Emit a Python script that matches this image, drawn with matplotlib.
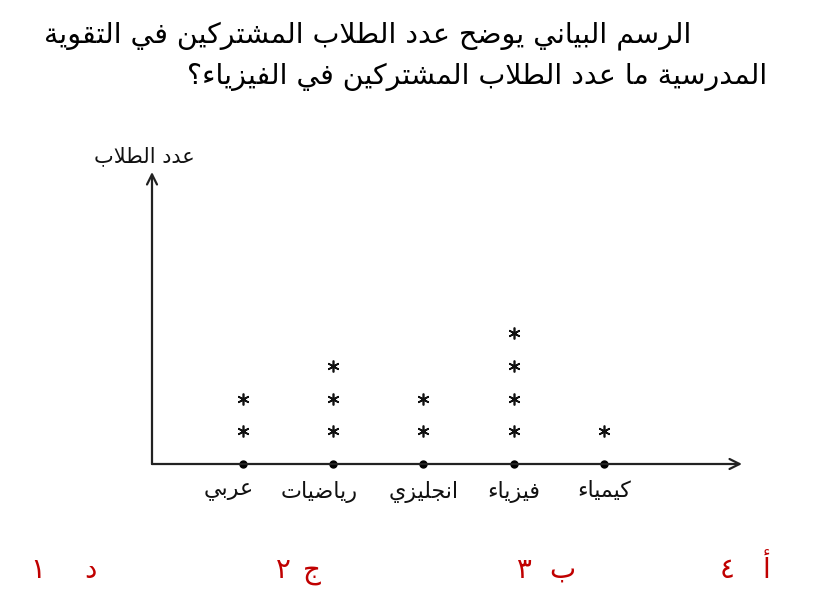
import matplotlib
matplotlib.use("Agg")
import matplotlib.pyplot as plt
import matplotlib.transforms as mtransforms

# ---------------- data ----------------
categories = ["عربي", "رياضيات", "انجليزي", "فيزياء", "كيمياء"]
counts = [2, 3, 2, 4, 1]
y_label = "عدد الطلاب"
title_lines = ["الرسم البياني يوضح عدد الطلاب المشتركين في التقوية",
               "المدرسية ما عدد الطلاب المشتركين في الفيزياء؟"]
choice_letters = ["أ", "ب", "ج", "د"]
choice_values = ["٤", "٣", "٢", "١"]

# ---------------- minimal Arabic shaping (presentation forms + RTL) ----------------
_FORMS = {  # isolated, final, initial, medial
    '\u0621': (0xFE80, None, None, None),
    '\u0622': (0xFE81, 0xFE82, None, None),
    '\u0623': (0xFE83, 0xFE84, None, None),
    '\u0624': (0xFE85, 0xFE86, None, None),
    '\u0625': (0xFE87, 0xFE88, None, None),
    '\u0626': (0xFE89, 0xFE8A, 0xFE8B, 0xFE8C),
    '\u0627': (0xFE8D, 0xFE8E, None, None),
    '\u0628': (0xFE8F, 0xFE90, 0xFE91, 0xFE92),
    '\u0629': (0xFE93, 0xFE94, None, None),
    '\u062A': (0xFE95, 0xFE96, 0xFE97, 0xFE98),
    '\u062B': (0xFE99, 0xFE9A, 0xFE9B, 0xFE9C),
    '\u062C': (0xFE9D, 0xFE9E, 0xFE9F, 0xFEA0),
    '\u062D': (0xFEA1, 0xFEA2, 0xFEA3, 0xFEA4),
    '\u062E': (0xFEA5, 0xFEA6, 0xFEA7, 0xFEA8),
    '\u062F': (0xFEA9, 0xFEAA, None, None),
    '\u0630': (0xFEAB, 0xFEAC, None, None),
    '\u0631': (0xFEAD, 0xFEAE, None, None),
    '\u0632': (0xFEAF, 0xFEB0, None, None),
    '\u0633': (0xFEB1, 0xFEB2, 0xFEB3, 0xFEB4),
    '\u0634': (0xFEB5, 0xFEB6, 0xFEB7, 0xFEB8),
    '\u0635': (0xFEB9, 0xFEBA, 0xFEBB, 0xFEBC),
    '\u0636': (0xFEBD, 0xFEBE, 0xFEBF, 0xFEC0),
    '\u0637': (0xFEC1, 0xFEC2, 0xFEC3, 0xFEC4),
    '\u0638': (0xFEC5, 0xFEC6, 0xFEC7, 0xFEC8),
    '\u0639': (0xFEC9, 0xFECA, 0xFECB, 0xFECC),
    '\u063A': (0xFECD, 0xFECE, 0xFECF, 0xFED0),
    '\u0641': (0xFED1, 0xFED2, 0xFED3, 0xFED4),
    '\u0642': (0xFED5, 0xFED6, 0xFED7, 0xFED8),
    '\u0643': (0xFED9, 0xFEDA, 0xFEDB, 0xFEDC),
    '\u0644': (0xFEDD, 0xFEDE, 0xFEDF, 0xFEE0),
    '\u0645': (0xFEE1, 0xFEE2, 0xFEE3, 0xFEE4),
    '\u0646': (0xFEE5, 0xFEE6, 0xFEE7, 0xFEE8),
    '\u0647': (0xFEE9, 0xFEEA, 0xFEEB, 0xFEEC),
    '\u0648': (0xFEED, 0xFEEE, None, None),
    '\u0649': (0xFEEF, 0xFEF0, None, None),
    '\u064A': (0xFEF1, 0xFEF2, 0xFEF3, 0xFEF4),
}
_LAMALEF = {'\u0622': (0xFEF5, 0xFEF6), '\u0623': (0xFEF7, 0xFEF8),
            '\u0625': (0xFEF9, 0xFEFA), '\u0627': (0xFEFB, 0xFEFC)}


def _dual(c):
    f = _FORMS.get(c)
    return f is not None and f[2] is not None


def _joins(c):
    f = _FORMS.get(c)
    return f is not None and f[1] is not None


def ar(text):
    out = []
    i = 0
    n = len(text)
    while i < n:
        c = text[i]
        prev = text[i - 1] if i > 0 else ''
        prev_con = _dual(prev)
        if c == '\u0644' and i + 1 < n and text[i + 1] in _LAMALEF:
            iso, fin = _LAMALEF[text[i + 1]]
            out.append(chr(fin if prev_con else iso))
            i += 2
            continue
        if c in _FORMS:
            nxt = text[i + 1] if i + 1 < n else ''
            iso, fin, ini, med = _FORMS[c]
            next_con = _joins(nxt) and ini is not None
            if ini is None:
                ch = fin if (prev_con and fin) else iso
            elif prev_con and next_con:
                ch = med
            elif next_con:
                ch = ini
            elif prev_con:
                ch = fin
            else:
                ch = iso
            out.append(chr(ch))
        else:
            out.append(c)
        i += 1
    return ''.join(reversed(out))


# ---------------- figure ----------------
W, H = 820, 606
fig = plt.figure(figsize=(W / 100, H / 100), dpi=100)
fig.patch.set_facecolor("white")
plt.rcParams['font.family'] = ['DejaVu Sans']

# axes placed so that the axis origin sits where it does in the picture
x0, y0, x1, y1 = 152, 464, 742, 172
ax = fig.add_axes([x0 / W, 1 - y0 / H, (x1 - x0) / W, (y0 - y1) / H])
ax.set_xlim(-1.008, 5.529)
ax.set_ylim(0, 8.93)
for s in ax.spines.values():
    s.set_visible(False)
ax.set_yticks([])
xs = list(range(len(categories)))
ax.set_xticks(xs)
ax.set_xticklabels([ar(c) for c in categories], fontsize=16, color="#111111")
ax.tick_params(axis='x', length=0, pad=12)
# the first two labels sit a little left of their dots in the picture
label_shift = [-14, -14, 0, 0, 0]
for lab, dx in zip(ax.get_xticklabels(), label_shift):
    lab.set_transform(lab.get_transform() +
                      mtransforms.ScaledTranslation(dx / 100, 0, fig.dpi_scale_trans))

# axes arrows
arrow_kw = dict(arrowstyle='->', color='#222222', lw=1.6, mutation_scale=18,
                shrinkA=0, shrinkB=0)
ax.annotate('', xy=(1, 0), xytext=(0, 0), xycoords='axes fraction',
            textcoords='axes fraction', arrowprops=arrow_kw, annotation_clip=False)
ax.annotate('', xy=(0, 1), xytext=(0, 0), xycoords='axes fraction',
            textcoords='axes fraction', arrowprops=arrow_kw, annotation_clip=False)

# dots on the x axis
ax.plot(xs, [0] * len(xs), 'o', color='black', markersize=5, clip_on=False)

# asterisks (line plot)
for x, c in zip(xs, counts):
    ax.plot([x] * c, list(range(1, c + 1)), linestyle='none', marker=(6, 2, 0),
            markersize=8.5, markeredgewidth=1.2, color='#111111', clip_on=False)

# y-axis label
ax.text(-0.0136, 1.02, ar(y_label), transform=ax.transAxes, ha='center',
        va='bottom', fontsize=15, color='#111111')

# title
fig.text(691 / W, 1 - 36 / H, ar(title_lines[0]), ha='right', va='center',
         fontsize=20.5, color='black')
fig.text(767 / W, 1 - 77 / H, ar(title_lines[1]), ha='right', va='center',
         fontsize=20.5, color='black')

# answer choices
red = '#C00000'
letter_x = [766, 562, 312, 90]
value_x = [727, 523, 283, 38]
for lx, vx, l, v in zip(letter_x, value_x, choice_letters, choice_values):
    fig.text(lx / W, 1 - 578 / H, ar(l), ha='center', va='baseline',
             fontsize=20, color=red)
    fig.text(vx / W, 1 - 578 / H, v, ha='center', va='baseline',
             fontsize=20, color=red)

fig.savefig("out.png", dpi=100)
